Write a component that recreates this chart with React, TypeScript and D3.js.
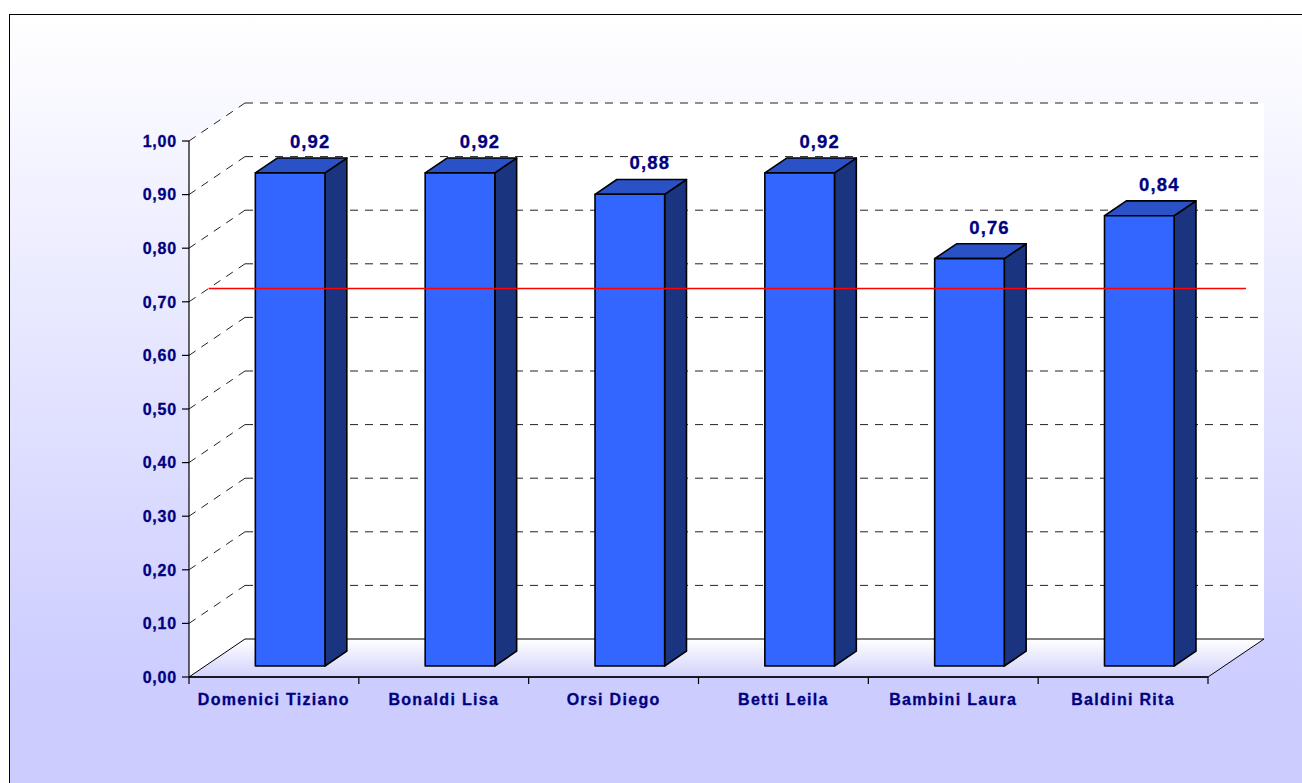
import * as d3 from "d3";

const names = ["Domenici Tiziano", "Bonaldi Lisa", "Orsi Diego", "Betti Leila", "Bambini Laura", "Baldini Rita"];
const scores = [0.92, 0.92, 0.88, 0.92, 0.76, 0.84];
const yTicks = [0, 0.1, 0.2, 0.3, 0.4, 0.5, 0.6, 0.7, 0.8, 0.9, 1.0];
const target = 0.7;

const W = 1302;
const H = 783;
const DX = 56;
const DY = -38;
const NAVY = "#000080";
const FONT = "Arial, 'Liberation Sans', sans-serif";

const fmt = (v: number) => v.toFixed(2).replace(".", ",");

export default function App() {
  const x = d3.scaleBand<string>().domain(names).range([189, 1208]).padding(0);
  const y = d3.scaleLinear().domain([0, 1]).range([677, 141]);
  const [x0, x1] = x.range();
  const y0 = y(0);

  const barW = x.bandwidth() * 0.41;
  const dFront = 0.29;
  const dBack = 0.68;

  const pt = (px: number, v: number, depth: number): [number, number] => [px + depth * DX, y(v) + depth * DY];
  const poly = (pts: [number, number][]) => pts.map((p) => p.join(",")).join(" ");

  const floor: [number, number][] = [pt(x0, 0, 0), pt(x0, 0, 1), pt(x1, 0, 1), pt(x1, 0, 0)];
  const sideWall: [number, number][] = [pt(x0, 0, 0), pt(x0, 1, 0), pt(x0, 1, 1), pt(x0, 0, 1)];

  const tl = pt(x0, target, 0.35);
  const tr = pt(x1, target, 0.66);

  return (
    <svg width={W} height={H} style={{ position: "absolute", left: 0, top: 0 }} fontFamily={FONT}>
      <defs>
        <linearGradient id="bg" x1="0" y1="14" x2="0" y2="690" gradientUnits="userSpaceOnUse">
          <stop offset="0" stopColor="#ffffff" />
          <stop offset="1" stopColor="#ccccff" />
        </linearGradient>
        <linearGradient id="fl" x1="0" y1={y0 + DY} x2="0" y2={y0} gradientUnits="userSpaceOnUse">
          <stop offset="0" stopColor="#ffffff" />
          <stop offset="1" stopColor="#d2d2fd" />
        </linearGradient>
      </defs>
      <rect x={9.5} y={14.5} width={W + 20} height={H + 20} fill="url(#bg)" stroke="#000" strokeWidth={1} />

      {/* walls */}
      <rect x={x0 + DX} y={y(1) + DY} width={x1 - x0} height={y0 - y(1)} fill="#fff" />
      <polygon points={poly(sideWall)} fill="#fff" />
      <polygon points={poly(floor)} fill="url(#fl)" stroke="#000" strokeWidth={1} />

      {/* gridlines */}
      {yTicks.filter((v) => v > 0).map((v) => {
        const a = pt(x0, v, 0);
        const b = pt(x0, v, 1);
        const c = pt(x1, v, 1);
        return (
          <g key={v} stroke="#222" strokeWidth={1} strokeDasharray="8,7" fill="none">
            <line x1={a[0]} y1={a[1]} x2={b[0]} y2={b[1]} />
            <line x1={b[0]} y1={b[1]} x2={c[0]} y2={c[1]} />
          </g>
        );
      })}

      {/* y axis */}
      <line x1={x0} y1={y(1)} x2={x0} y2={y0} stroke="#000" strokeWidth={1.2} />
      <line x1={x0} y1={y0} x2={x1} y2={y0} stroke="#000" strokeWidth={1.6} />
      {yTicks.map((v) => (
        <g key={v}>
          <line x1={x0 - 7} y1={y(v)} x2={x0} y2={y(v)} stroke="#000" strokeWidth={1.2} />
          <text x={x0 - 12} y={y(v) + 5.8} textAnchor="end" fontSize={16} fontWeight="bold" fill={NAVY} stroke={NAVY} strokeWidth={0.3} letterSpacing={0.8}>
            {fmt(v)}
          </text>
        </g>
      ))}

      {/* x axis */}
      {[...names.map((n) => x(n)!), x1].map((px, i) => (
        <line key={i} x1={px} y1={y0} x2={px} y2={y0 + 7} stroke="#000" strokeWidth={1.2} />
      ))}
      {names.map((n) => (
        <text key={n} x={x(n)! + x.bandwidth() / 2} y={y0 + 28} textAnchor="middle" fontSize={16} fontWeight="bold" fill={NAVY} stroke={NAVY} strokeWidth={0.3} letterSpacing={1.3}>
          {n}
        </text>
      ))}

      {/* bars */}
      {names.map((n, i) => {
        const v = scores[i];
        const l = x(n)! + (x.bandwidth() - barW) / 2;
        const r = l + barW;
        const f1 = pt(l, v, dFront);
        const f2 = pt(r, v, dFront);
        const f3 = pt(r, 0, dFront);
        const f4 = pt(l, 0, dFront);
        const b1 = pt(l, v, dBack);
        const b2 = pt(r, v, dBack);
        const b3 = pt(r, 0, dBack);
        return (
          <g key={n} stroke="#000" strokeWidth={1.6} strokeLinejoin="round">
            <polygon points={poly([f2, b2, b3, f3])} fill="#1a347f" />
            <polygon points={poly([f1, b1, b2, f2])} fill="#2a52c6" />
            <polygon points={poly([f1, f2, f3, f4])} fill="#3366ff" />
            <text x={(f1[0] + f2[0]) / 2 + 20} y={b1[1] - 10} textAnchor="middle" fontSize={18.5} fontWeight="bold" fill={NAVY} stroke={NAVY} strokeWidth={0.3} letterSpacing={1.1}>
              {fmt(v)}
            </text>
          </g>
        );
      })}

      {/* target line */}
      <line x1={tl[0]} y1={tl[1]} x2={tr[0] + 1} y2={tl[1]} stroke="#ff0000" strokeWidth={1.6} />
    </svg>
  );
}
